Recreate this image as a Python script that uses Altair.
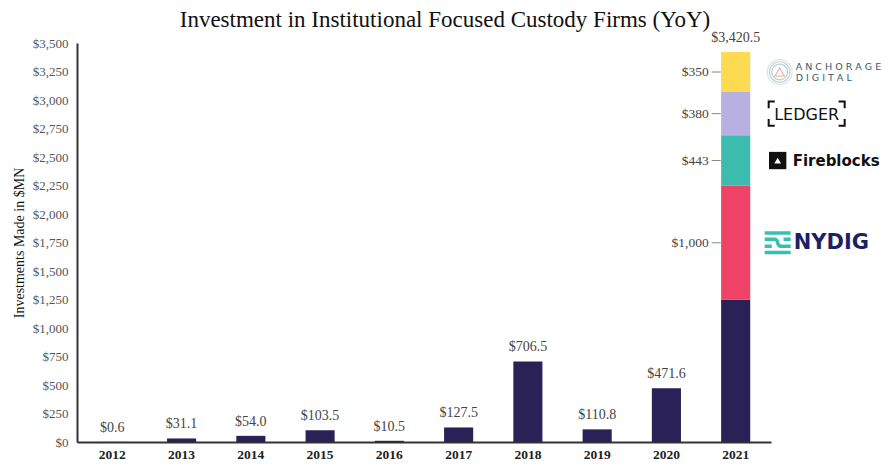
import altair as alt
import pandas as pd

# ---- data ----
years = ["2012", "2013", "2014", "2015", "2016", "2017", "2018", "2019", "2020", "2021"]
base_values = [0.6, 31.1, 54.0, 103.5, 10.5, 127.5, 706.5, 110.8, 471.6, 1247.5]
totals = [0.6, 31.1, 54.0, 103.5, 10.5, 127.5, 706.5, 110.8, 471.6, 3420.5]
companies = ["NYDIG", "Fireblocks", "Ledger", "Anchorage Digital"]
company_values = [1000, 443, 380, 350]
company_year = "2021"
y_ticks = [0, 250, 500, 750, 1000, 1250, 1500, 1750, 2000, 2250, 2500, 2750, 3000, 3250, 3500]

series_names = ["Base"] + companies
series_colors = ["#2a2157", "#ee4266", "#3bbcaf", "#b7b0e0", "#fcda52"]

SERIF = "Liberation Serif"
SANS = "DejaVu Sans"

# ---- tables ----
rows = []
for y, v in zip(years, base_values):
    rows.append({"year": y, "series": "Base", "amount": v, "order": 0})
for i, (c, v) in enumerate(zip(companies, company_values)):
    rows.append({"year": company_year, "series": c, "amount": v, "order": i + 1})
bars_df = pd.DataFrame(rows)

tot_df = pd.DataFrame({"year": years, "total": totals})

seg_rows = []
start = base_values[years.index(company_year)]
for c, v in zip(companies, company_values):
    seg_rows.append({"year": company_year, "series": c, "amount": v, "mid": start + v / 2})
    start += v
seg_df = pd.DataFrame(seg_rows)
mid = dict(zip(seg_df["series"], seg_df["mid"]))

x_scale = alt.Scale(paddingInner=0.58, paddingOuter=0.3)
y_scale = alt.Scale(domain=[0, 3500], nice=False)

X_AXIS = alt.Axis(
    title=None, labelAngle=0, ticks=False, domainColor="#333", domainWidth=2,
    labelFont=SERIF, labelFontSize=13.5, labelFontWeight="bold", labelColor="#222",
    labelBaseline="alphabetic", labelPadding=16,
)
Y_AXIS = alt.Axis(
    values=y_ticks, format="$,.0f", grid=False, ticks=False, labelOverlap=False,
    domainColor="#333", domainWidth=2, labelFont=SERIF, labelFontSize=13,
    labelColor="#555", labelPadding=9, title="Investments Made in $MN",
    titleFont=SERIF, titleFontSize=14, titleFontWeight="normal", titleColor="#111",
    titlePadding=6,
)


def xq():
    return alt.X("year:N", sort=years, scale=x_scale, axis=X_AXIS)


def yq(field, **kw):
    return alt.Y(field, scale=y_scale, axis=Y_AXIS, **kw)


bars = alt.Chart(bars_df).mark_bar().encode(
    x=xq(),
    y=yq("amount:Q", stack="zero"),
    color=alt.Color("series:N", scale=alt.Scale(domain=series_names, range=series_colors), legend=None),
    order=alt.Order("order:Q"),
)

tot_text = alt.Chart(tot_df).mark_text(
    baseline="bottom", dy=-7, font=SERIF, fontSize=14, color="#444"
).encode(
    x=xq(),
    y=yq("total:Q"),
    text=alt.Text("total:Q", format="$,.1f"),
)

seg_text = alt.Chart(seg_df).mark_text(
    align="right", baseline="middle", dx=-27, font=SERIF, fontSize=13.5, color="#444"
).encode(
    x=xq(),
    y=yq("mid:Q"),
    text=alt.Text("amount:Q", format="$,.0f"),
)

seg_ticks = alt.Chart(seg_df).mark_rule(
    color="#888", strokeWidth=1, xOffset=-24, x2Offset=-15
).encode(
    x=xq(),
    x2=alt.X2("year"),
    y=yq("mid:Q"),
)


# ---- logo-like annotations (text + symbols), aligned to segment middles ----
def ann(df, **kw):
    return alt.Chart(pd.DataFrame(df)).mark_text(**kw).encode(
        x=xq(), y=yq("v:Q"), text="t:N"
    )


def sym(df, **kw):
    return alt.Chart(pd.DataFrame(df)).mark_point(**kw).encode(
        x=xq(), y=yq("v:Q")
    )


yr = company_year
anch = mid["Anchorage Digital"]
ledg = mid["Ledger"]
fire = mid["Fireblocks"]
nyd = mid["NYDIG"]

BRACKETS = ("M-0.84,-0.32 L-1,-0.32 L-1,-0.14 M-1,0.14 L-1,0.32 L-0.84,0.32 "
            "M0.84,-0.32 L1,-0.32 L1,-0.14 M1,0.14 L1,0.32 L0.84,0.32")
NYDIG_ICON = ("M-1,-0.75 L1,-0.75 M-1,-0.27 L-0.25,-0.27 C0.15,-0.27 -0.15,0.27 0.25,0.27 L1,0.27 "
              "M-1,0.27 L-0.45,0.27 M0.45,-0.27 L1,-0.27 M-1,0.75 L1,0.75")

logos = [
    # Anchorage Digital
    sym([{"year": yr, "v": anch}], shape="circle", size=620, filled=False, stroke="#c9dbe0", strokeWidth=1.2, xOffset=44),
    sym([{"year": yr, "v": anch}], shape="circle", size=420, filled=False, stroke="#a9c6cf", strokeWidth=1.2, xOffset=44),
    sym([{"year": yr, "v": anch}], shape="circle", size=250, filled=False, stroke="#9bbcc6", strokeWidth=1.2, xOffset=44),
    sym([{"year": yr, "v": anch}], shape="triangle-up", size=90, filled=False, stroke="#e0a58a", strokeWidth=1.3, xOffset=44),
    ann([{"year": yr, "v": anch, "t": "A N C H O R A G E"}], align="left", baseline="bottom", dx=60, dy=0,
        font=SANS, fontSize=9.5, color="#2f5d6b"),
    ann([{"year": yr, "v": anch, "t": "D I G I T A L"}], align="left", baseline="top", dx=60, dy=1,
        font=SANS, fontSize=9.5, color="#2f5d6b"),
    # Ledger
    sym([{"year": yr, "v": ledg}], shape=BRACKETS, size=5776, filled=False, stroke="#111",
        strokeWidth=2, opacity=1, xOffset=71),
    ann([{"year": yr, "v": ledg, "t": "LEDGER"}], align="center", baseline="middle", dx=71, dy=1,
        font=SANS, fontSize=16, color="#111"),
    # Fireblocks
    sym([{"year": yr, "v": fire}], shape="square", size=300, filled=True, color="#111", opacity=1, xOffset=42),
    sym([{"year": yr, "v": fire}], shape="triangle-up", size=45, filled=True, color="#fff", opacity=1, xOffset=42),
    ann([{"year": yr, "v": fire, "t": "Fireblocks"}], align="left", baseline="middle", dx=57, dy=0,
        font=SANS, fontSize=15, fontWeight="bold", color="#111"),
    # NYDIG
    sym([{"year": yr, "v": nyd}], shape=NYDIG_ICON, size=676, filled=False, stroke="#36c0b0",
        strokeWidth=3.5, opacity=1, xOffset=42),
    ann([{"year": yr, "v": nyd, "t": "NYDIG"}], align="left", baseline="middle", dx=58, dy=0,
        font=SANS, fontSize=21, fontWeight="bold", color="#1f1f66"),
]

chart = alt.layer(bars, tot_text, seg_ticks, seg_text, *logos).properties(
    width=694,
    height=399,
    background="white",
    autosize=alt.AutoSizeParams(type="none"),
    padding={"left": 69, "top": 35, "right": 111, "bottom": 18},
    title=alt.Title(
        "Investment in Institutional Focused Custody Firms (YoY)",
        font=SERIF, fontSize=23, fontWeight="normal", color="#111",
        anchor="middle", frame="group", dx=21, dy=17, offset=16,
    ),
).configure_view(strokeWidth=0)

chart.save("out.html", embed_options={"renderer": "svg", "actions": False})
